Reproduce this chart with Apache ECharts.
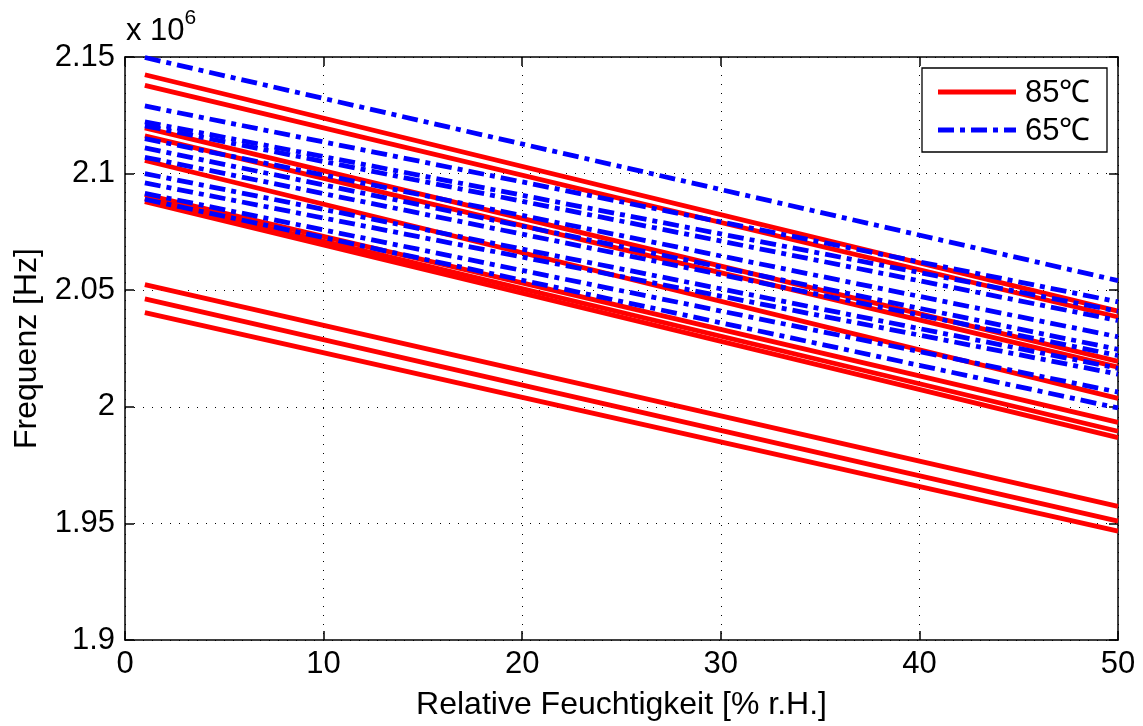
<!DOCTYPE html>
<html>
<head>
<meta charset="utf-8">
<script src="https://cdn.jsdelivr.net/npm/echarts@6/dist/echarts.min.js"></script>
<style>
html,body{margin:0;padding:0;background:#fff;}
#c{width:1143px;height:726px;}
</style>
</head>
<body>
<div id="c"></div>
<script>
// x positions of the line endpoints (% r.H.)
const xPoints = [1, 50];
// Frequency values (x 10^6 Hz) at x=1 and x=50
const red85Start = [2.1424, 2.1378, 2.1196, 2.1162, 2.1056, 2.0910, 2.0894, 2.0880, 2.0524, 2.0463, 2.0404];
const red85End   = [2.0410, 2.0385, 2.0195, 2.0170, 2.0036, 1.9933, 1.9895, 1.9868, 1.9573, 1.9510, 1.9467];
const blue65Start = [2.1498, 2.1290, 2.1222, 2.1205, 2.1150, 2.1110, 2.1070, 2.1000, 2.0960, 2.0915, 2.0890];
const blue65End   = [2.0541, 2.0450, 2.0410, 2.0370, 2.0300, 2.0246, 2.0220, 2.0165, 2.0140, 2.0063, 1.9995];
const xTicks = [0, 10, 20, 30, 40, 50];
const yTicks = [1.9, 1.95, 2, 2.05, 2.1, 2.15];
const legendNames = ['85\u2103', '65\u2103'];

const FONT = '"Liberation Sans", Arial, Helvetica, sans-serif';
const FS = 31;
const DASHDOT = [16, 6, 5, 6];
const series = [];
red85Start.forEach((s, i) => {
  series.push({
    name: legendNames[0], type: 'line', symbol: 'none', silent: true,
    data: [[xPoints[0], s], [xPoints[1], red85End[i]]],
    lineStyle: {color: '#ff0000', width: 4.8, type: 'solid'}
  });
});
blue65Start.forEach((s, i) => {
  series.push({
    name: legendNames[1], type: 'line', symbol: 'none', silent: true,
    data: [[xPoints[0], s], [xPoints[1], blue65End[i]]],
    lineStyle: {color: '#0000ff', width: 4.8, type: DASHDOT}
  });
});

const splitLine = {show: true, lineStyle: {color: '#000', width: 1, type: [1, 8]}};
const axisCommon = {
  axisLine: {show: true, onZero: false, lineStyle: {color: '#000', width: 1.5}},
  axisTick: {show: true, inside: true, length: 9, lineStyle: {color: '#000', width: 1.5}}
};
const chart = echarts.init(document.getElementById('c'), null, {renderer: 'canvas'});
chart.setOption({
  animation: false,
  backgroundColor: '#fff',
  grid: {left: 125, right: 25, top: 57, bottom: 80, show: false},
  xAxis: [Object.assign({
    type: 'value', min: xTicks[0], max: xTicks[xTicks.length - 1], interval: 10,
    position: 'bottom',
    axisLabel: {color: '#000', fontSize: FS, fontFamily: FONT, margin: 9},
    splitLine: splitLine,
    name: 'Relative Feuchtigkeit [% r.H.]', nameLocation: 'middle', nameGap: 49,
    nameTextStyle: {color: '#000', fontSize: 32, fontFamily: FONT}
  }, axisCommon), Object.assign({
    type: 'value', min: xTicks[0], max: xTicks[xTicks.length - 1], interval: 10,
    position: 'top',
    axisLabel: {show: false}, splitLine: {show: false}
  }, axisCommon)],
  yAxis: [Object.assign({
    type: 'value', min: yTicks[0], max: yTicks[yTicks.length - 1], interval: 0.05,
    position: 'left',
    axisLabel: {color: '#000', fontSize: FS, fontFamily: FONT, margin: 10,
      formatter: v => String(parseFloat(v.toFixed(2)))},
    splitLine: splitLine,
    name: 'Frequenz [Hz]', nameLocation: 'middle', nameGap: 82,
    nameTextStyle: {color: '#000', fontSize: 32, fontFamily: FONT}
  }, axisCommon), Object.assign({
    type: 'value', min: yTicks[0], max: yTicks[yTicks.length - 1], interval: 0.05,
    position: 'right',
    axisLabel: {show: false}, splitLine: {show: false}
  }, axisCommon)],
  graphic: [{
    type: 'text', left: 126, top: 8,
    style: {
      text: '{a|x 10}{b|6}',
      rich: {
        a: {fontSize: FS, fontFamily: FONT, fill: '#000', verticalAlign: 'bottom'},
        b: {fontSize: 21, fontFamily: FONT, fill: '#000', verticalAlign: 'top', padding: [0, 0, 18, 0]}
      }
    }
  }, {
    type: 'rect', shape: {x: 922, y: 68, width: 185, height: 84},
    style: {fill: '#fff', stroke: '#000', lineWidth: 1.3}, z: 100
  }, {
    type: 'line', shape: {x1: 938, y1: 92, x2: 1016, y2: 92},
    style: {stroke: '#ff0000', lineWidth: 4.8}, z: 101
  }, {
    type: 'line', shape: {x1: 938, y1: 130, x2: 1016, y2: 130},
    style: {stroke: '#0000ff', lineWidth: 4.8, lineDash: DASHDOT}, z: 101
  }, {
    type: 'text', x: 1025, y: 93, z: 101,
    style: {text: legendNames[0], fontSize: FS, fontFamily: FONT, fill: '#000', verticalAlign: 'middle'}
  }, {
    type: 'text', x: 1025, y: 131, z: 101,
    style: {text: legendNames[1], fontSize: FS, fontFamily: FONT, fill: '#000', verticalAlign: 'middle'}
  }],
  series: series
});
</script>
</body>
</html>
